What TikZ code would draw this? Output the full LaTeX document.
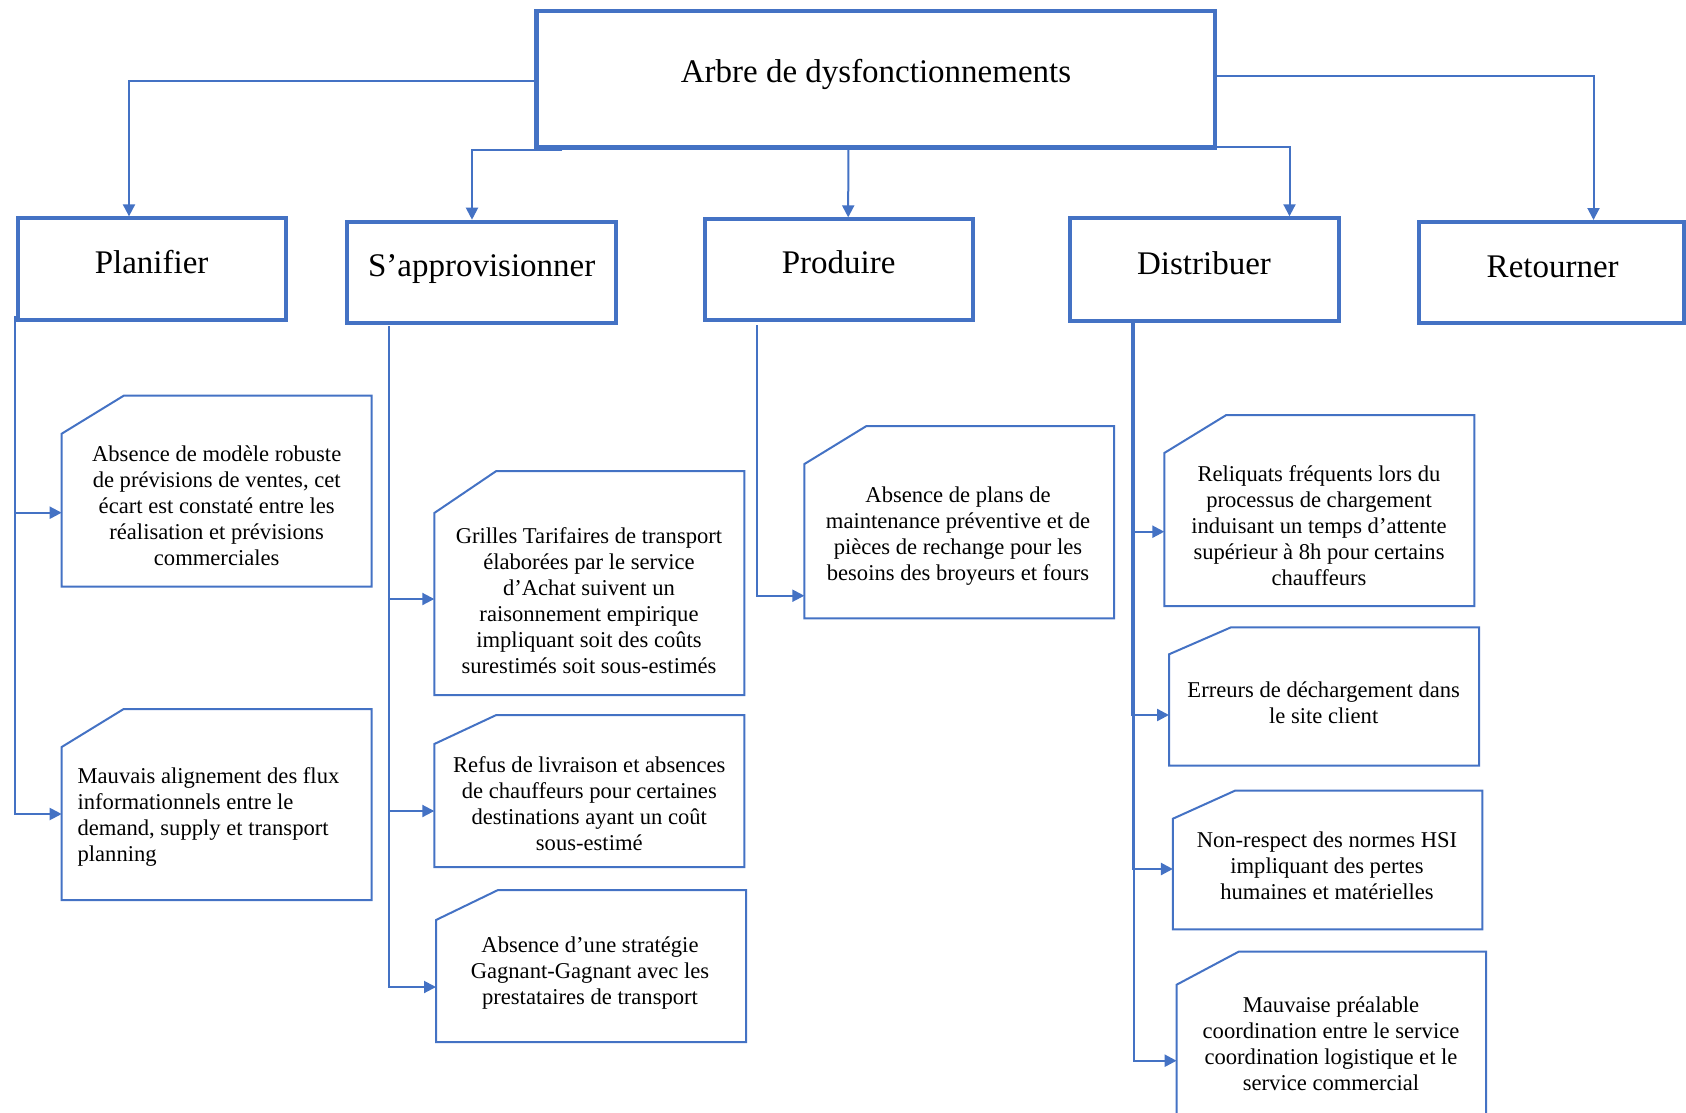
\documentclass[tikz,border=0pt]{standalone}
\usepackage{fontspec}
\setmainfont{Liberation Serif}
\usetikzlibrary{arrows.meta,calc}
\definecolor{linkblue}{HTML}{4472C4}
\newcommand\bodysize{\fontsize{22.6}{26}\selectfont}
\newcommand\headsize{\fontsize{33}{38}\selectfont}
\begin{document}
\begin{tikzpicture}[x=1pt,y=-1pt,
  rootbox/.style={draw=linkblue,line width=4.5,inner sep=0},
  catbox/.style={draw=linkblue,line width=4,inner sep=0},
  cell/.style={inner sep=0,outer sep=0},
  cellline/.style={draw=linkblue,line width=2,line join=miter},
  head/.style={font=\headsize,inner sep=0,text height=0.68em,text depth=0.2em},
  txt/.style={font=\bodysize,align=center,inner sep=0},
  conn/.style={draw=linkblue,line width=2,-{Triangle[length=12pt,width=12pt]}},
  trunk/.style={conn,line width=2.4}]
\useasboundingbox (0,0) rectangle (1686,1112);
\clip (0,0) rectangle (1686,1112);

% root and the five process boxes
\node[rootbox,minimum width=678.5,minimum height=136.5] (root) at (875.9,79.05) {};
\node[catbox,minimum width=267.7,minimum height=101.7] (plan) at (152,269.2) {};
\node[catbox,minimum width=268.5,minimum height=101.6] (sap) at (481.6,272.5) {};
\node[catbox,minimum width=268.3,minimum height=100.7] (prod) at (839.2,269.7) {};
\node[catbox,minimum width=268.6,minimum height=102.4] (dist) at (1204.3,269.5) {};
\node[catbox,minimum width=265,minimum height=101] (ret) at (1551.5,272.5) {};

\node[head] (roott) at (876,80.5) {Arbre de dysfonctionnements};
\node[head] (plant) at (151.6,270.8) {Planifier};
\node[head] (sapt) at (481.7,274) {S’approvisionner};
\node[head] (prodt) at (838.7,270.8) {Produire};
\node[head] (distt) at (1204,271.9) {Distribuer};
\node[head] (rett) at (1552.7,275.1) {Retourner};

% dysfunction cells (outlines drawn below with a clipped top-left corner)
\node[cell,minimum width=310,minimum height=191] (p1) at (216.7,491.2) {};
\node[cell,minimum width=310,minimum height=191] (p2) at (216.7,804.5) {};
\node[cell,minimum width=310,minimum height=224] (a1) at (589.3,583) {};
\node[cell,minimum width=310,minimum height=152] (a2) at (589.3,791) {};
\node[cell,minimum width=310,minimum height=152] (a3) at (591,966) {};
\node[cell,minimum width=309.7,minimum height=192.3] (pr1) at (959.2,522.2) {};
\node[cell,minimum width=310,minimum height=191] (d1) at (1319.3,510.5) {};
\node[cell,minimum width=310,minimum height=138.4] (d2) at (1324,696.5) {};
\node[cell,minimum width=309.4,minimum height=138.6] (d3) at (1327.6,860) {};
\node[cell,minimum width=309.4,minimum height=178.3] (d4) at (1331.3,1040.85) {};

\foreach \bx/\ch in {p1/38,p2/38,a1/42,a2/29,a3/30,pr1/38,d1/38,d2/27,d3/28,d4/33}
  \draw[cellline] (\bx.south west) -- ([yshift=-\ch]\bx.north west)
    -- ([xshift=62]\bx.north west) -- (\bx.north east) -- (\bx.south east) -- cycle;

\node[txt] (p1t) at (216.7,505.4) {Absence de modèle robuste\\de prévisions de ventes, cet\\écart est constaté entre les\\réalisation et prévisions\\commerciales};
\node[txt,align=left,anchor=west] (p2t) at (77.4,816.5) {Mauvais alignement des flux\\informationnels entre le\\demand, supply et transport\\planning};
\node[txt] (a1t) at (589,600.5) {Grilles Tarifaires de transport\\élaborées par le service\\d’Achat suivent un\\raisonnement empirique\\impliquant soit des coûts\\surestimés soit sous-estimés};
\node[txt] (a2t) at (589.3,803.5) {Refus de livraison et absences\\de chauffeurs pour certaines\\destinations ayant un coût\\sous-estimé};
\node[txt] (a3t) at (590,973.5) {Absence d’une stratégie\\Gagnant-Gagnant avec les\\prestataires de transport};
\node[txt] (pr1t) at (958,536) {Absence de plans de\\maintenance préventive et de\\pièces de rechange pour les\\besoins des broyeurs et fours};
\node[txt] (d1t) at (1319,525.8) {Reliquats fréquents lors du\\processus de chargement\\induisant un temps d’attente\\supérieur à 8h pour certains\\chauffeurs};
\node[txt] (d2t) at (1323.7,703) {Erreurs de déchargement dans\\le site client};
\node[txt] (d3t) at (1327,865.6) {Non-respect des normes HSI\\impliquant des pertes\\humaines et matérielles};
\node[txt] (d4t) at (1331,1044) {Mauvaise préalable\\coordination entre le service\\coordination logistique et le\\service commercial};

% root to processes
\draw[conn] ($(root.west)+(0,1.5)$) -| ($(plan.north)+(-23,0)$);
\draw[conn] ($(root.south west)+(28,0)$) -| ($(sap.north)+(-9.6,0)$);
\draw[conn] ($(root.south)+(-27.6,0)$) -- ($(prod.north)+(9,0)$);
\draw[conn] ($(root.south east)+(0,-2.2)$) -| ($(dist.north)+(85.2,0)$);
\draw[conn] ($(root.east)+(0,-2.7)$) -| ($(ret.north)+(42,0)$);

% processes to their dysfunctions
\draw[conn] ($(plan.south west)+(-1.3,-6)$) |- ($(p1.west)+(0,21.5)$);
\draw[conn] ($(plan.south west)+(-1.3,-6)$) |- ($(p2.west)+(0,9.5)$);

\draw[conn] ($(sap.south west)+(43.7,1)$) |- ($(a1.west)+(0,16)$);
\draw[conn] ($(sap.south west)+(43.7,1)$) |- ($(a2.west)+(0,20)$);
\draw[conn] ($(sap.south west)+(43.7,1)$) |- ($(a3.west)+(0,21)$);

\draw[conn] ($(prod.south west)+(54,3)$) |- ($(pr1.west)+(0,73.5)$);

\draw[trunk] ($(dist.south west)+(63.8,0)$) |- ($(d1.west)+(0,21.2)$);
\draw[trunk] ($(dist.south west)+(64.6,0)$) |- ($(d2.west)+(0,18.5)$);
\draw[trunk] ($(dist.south west)+(65.2,0)$) |- ($(d3.west)+(0,9)$);
\draw[trunk] ($(dist.south west)+(65.8,0)$) |- ($(d4.west)+(0,19.85)$);
\end{tikzpicture}
\end{document}
